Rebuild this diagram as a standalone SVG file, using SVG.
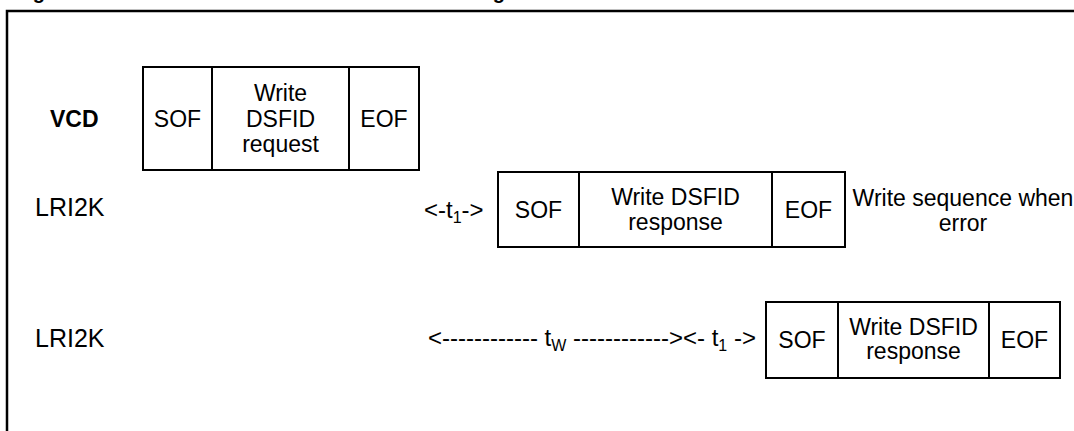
<svg xmlns="http://www.w3.org/2000/svg" width="1074" height="431" viewBox="0 0 1074 431">
<style>
text{font-family:"Liberation Sans",Arial,Helvetica,sans-serif;font-size:23px;fill:#000}
.b{font-weight:bold}
.m{text-anchor:middle}
.lbl{font-size:25px}
.t{font-size:24px}
.cap{font-size:20px;font-weight:bold}
.box{fill:#fff;stroke:#000;stroke-width:2}
.div{stroke:#000;stroke-width:2}
.frame{fill:none;stroke:#000;stroke-width:2.5}
.sub{font-size:16px}
</style>
<rect width="1074" height="431" fill="#fff"/>
<text class="cap" x="15" y="-1">Figure 33.</text>
<text class="cap" x="243" y="-1">Write DSFID frame exchange between VCD and LRI2K</text>
<path class="frame" d="M7,431 V11 H1074"/>

<g id="vcd-label"><text class="b" x="50" y="127">VCD</text></g>
<g id="vcd-frame">
<rect class="box" x="143" y="67" width="276" height="103"/>
<line class="div" x1="212" y1="67" x2="212" y2="170"/>
<line class="div" x1="349" y1="67" x2="349" y2="170"/>
<text class="m" x="177.5" y="127">SOF</text>
<text class="m" x="280.5" y="101">Write</text>
<text class="m" x="280.5" y="127">DSFID</text>
<text class="m" x="280.5" y="152">request</text>
<text class="m" x="384" y="127">EOF</text>
</g>

<g id="lri2k-label-1"><text class="lbl" x="35" y="216">LRI2K</text></g>
<g id="t1-label-1"><text class="t" x="424" y="218">&lt;-t<tspan class="sub" dy="5">1</tspan><tspan dy="-5">-&gt;</tspan></text></g>
<g id="lri2k-frame-1">
<rect class="box" x="498" y="172" width="347" height="75"/>
<line class="div" x1="579" y1="172" x2="579" y2="247"/>
<line class="div" x1="772" y1="172" x2="772" y2="247"/>
<text class="m" x="538.5" y="218">SOF</text>
<text class="m" x="675.5" y="205">Write DSFID</text>
<text class="m" x="675.5" y="230">response</text>
<text class="m" x="808.5" y="218">EOF</text>
</g>
<g id="note"><text class="m" x="963" y="206">Write sequence when</text><text class="m" x="963" y="231">error</text></g>

<g id="lri2k-label-2"><text class="lbl" x="35" y="347">LRI2K</text></g>
<g id="tw-label"><text class="t" x="428" y="346">&lt;------------ t<tspan class="sub" dy="5">W</tspan><tspan dy="-5"> ------------&gt;&lt;- t</tspan><tspan class="sub" dy="5">1</tspan><tspan dy="-5"> -&gt;</tspan></text></g>
<g id="lri2k-frame-2">
<rect class="box" x="766" y="302" width="294" height="76"/>
<line class="div" x1="838" y1="302" x2="838" y2="378"/>
<line class="div" x1="989" y1="302" x2="989" y2="378"/>
<text class="m" x="802" y="348">SOF</text>
<text class="m" x="913.5" y="335">Write DSFID</text>
<text class="m" x="913.5" y="359">response</text>
<text class="m" x="1024.5" y="348">EOF</text>
</g>
<g id="connectors"></g>
</svg>
